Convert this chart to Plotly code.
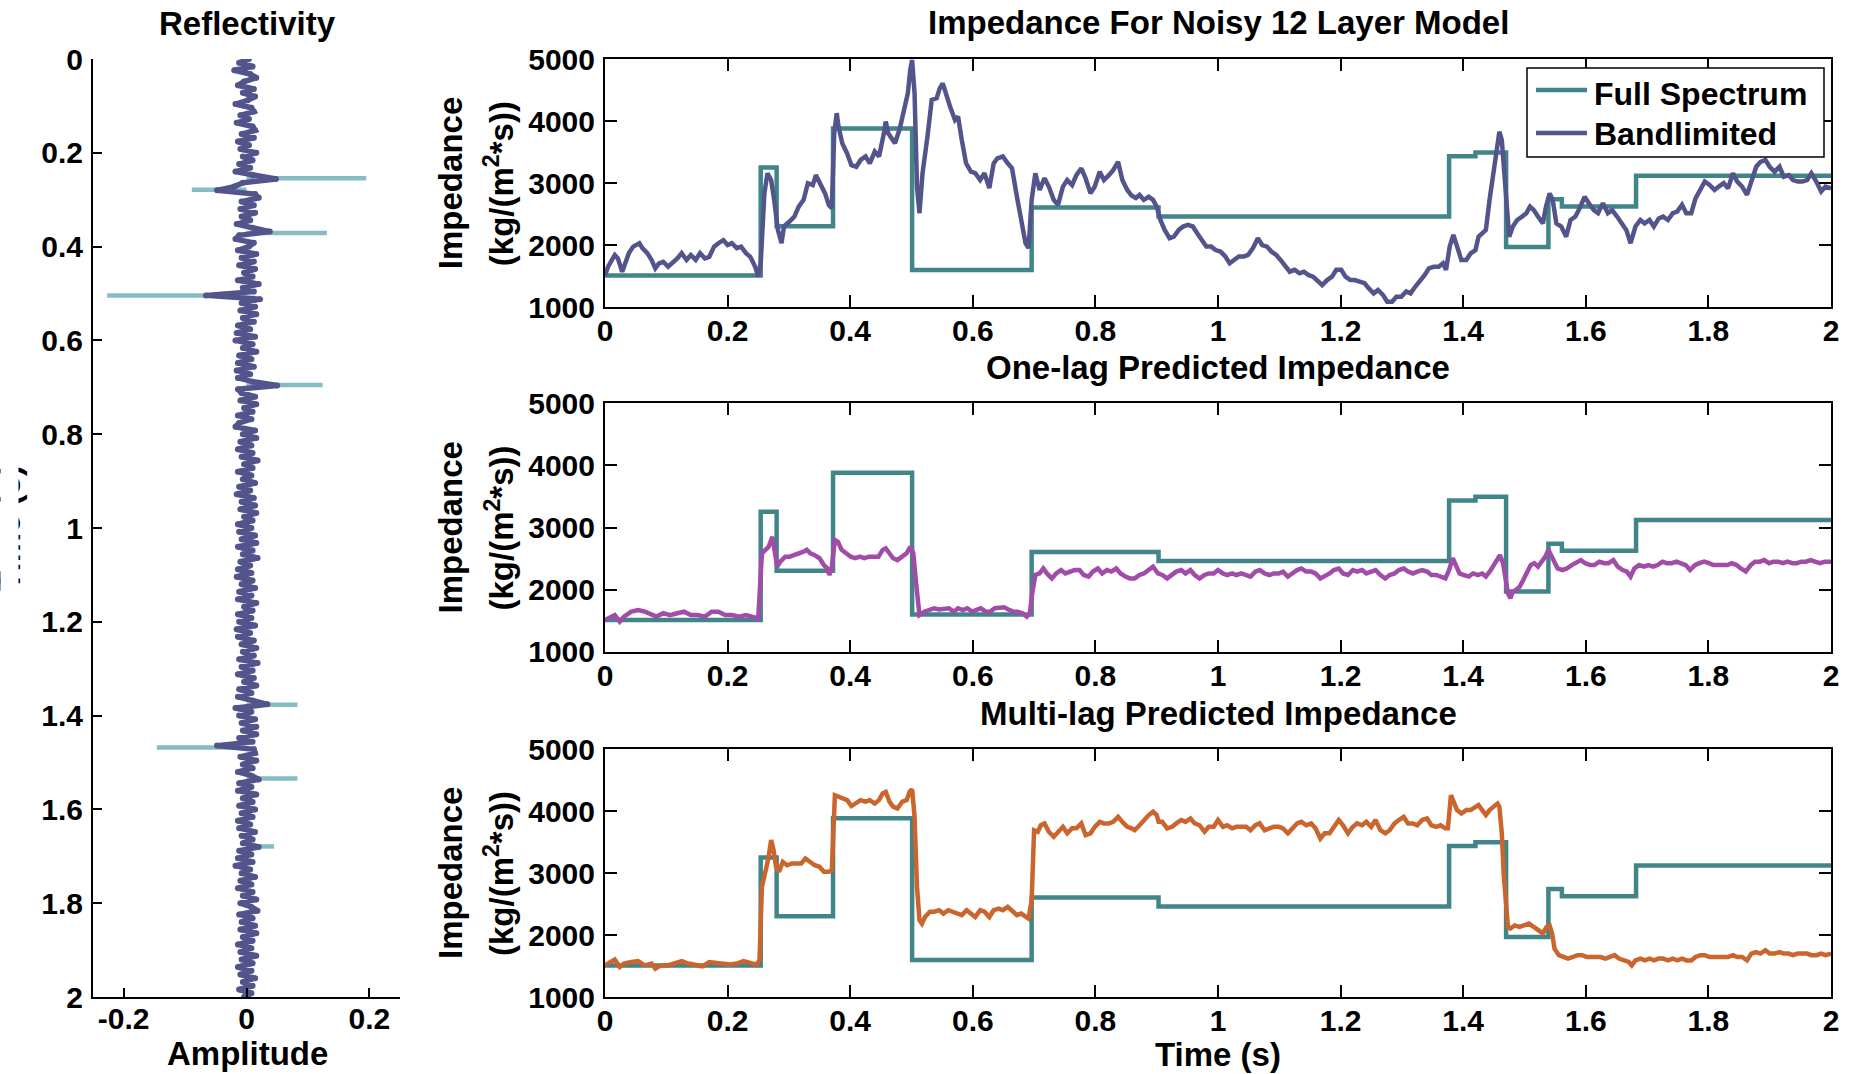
import plotly.graph_objects as go

# ------------------------------------------------------------------ data
# Reflectivity panel
refl_spike_time = [0.254, 0.279, 0.371, 0.504, 0.695, 1.377, 1.468, 1.534, 1.679]
refl_spike_amp = [0.195, -0.089, 0.131, -0.227, 0.124, 0.083, -0.146, 0.083, 0.045]
refl_dt = 0.008
refl_noise = [
    0.004, -0.012, 0.010, -0.020, 0.006, 0.016, -0.004, -0.014, 0.012, -0.006,
    0.014, 0.002, -0.018, 0.008, 0.012, -0.010, 0.004, -0.016, 0.010, 0.014,
    -0.008, 0.012, -0.014, 0.004, -0.010, 0.016, -0.006, 0.010, -0.012, 0.006,
    -0.018, 0.010, 0.048, -0.006, -0.020, -0.048, 0.014, 0.020, -0.008, 0.012,
    -0.010, 0.014, -0.008, 0.006, -0.016, 0.010, 0.038, -0.012, -0.018, 0.012,
    0.004, -0.014, 0.016, -0.008, 0.012, -0.012, 0.014, -0.004, 0.010, -0.014,
    0.020, -0.006, 0.012, -0.066, 0.022, -0.008, 0.014, -0.010, 0.016, -0.006,
    0.012, -0.014, 0.006, -0.016, 0.014, -0.018, 0.010, -0.006, 0.016, -0.012,
    0.008, -0.014, 0.012, -0.016, 0.006, -0.014, 0.010, 0.050, -0.014, -0.008,
    0.014, -0.010, 0.016, -0.004, 0.010, -0.014, 0.008, -0.012, -0.018, 0.014,
    -0.006, 0.016, -0.010, 0.008, -0.014, 0.010, -0.008, 0.018, -0.004, 0.010,
    -0.014, 0.008, -0.006, 0.014, -0.012, 0.006, -0.016, 0.012, -0.008, 0.014,
    -0.010, 0.016, -0.004, 0.010, -0.014, 0.008, -0.012, 0.014, -0.008, 0.016,
    -0.014, 0.010, -0.006, 0.018, -0.010, 0.006, -0.014, 0.008, -0.016, 0.010,
    -0.008, 0.014, -0.012, 0.008, -0.014, 0.016, -0.004, 0.010, -0.014, 0.008,
    -0.012, 0.014, -0.016, 0.006, -0.014, 0.012, -0.008, 0.016, -0.006, 0.012,
    -0.012, 0.018, -0.008, 0.010, -0.014, 0.012, -0.004, 0.016, -0.012, 0.008,
    -0.014, 0.010, 0.034, -0.018, 0.008, -0.012, 0.014, -0.008, 0.016, -0.006,
    0.016, -0.012, 0.010, -0.048, 0.012, 0.014, -0.010, 0.016, -0.006, 0.010,
    -0.014, 0.008, 0.020, -0.012, 0.008, -0.014, 0.016, -0.006, 0.010, -0.012,
    0.014, -0.008, 0.010, -0.014, 0.006, -0.012, 0.014, -0.008, 0.010, -0.006,
    0.020, -0.012, 0.008, -0.014, 0.010, -0.018, 0.006, -0.008, 0.014, -0.010,
    0.008, -0.014, 0.010, -0.006, 0.016, -0.010, 0.008, 0.018, -0.012, 0.010,
    -0.008, 0.014, -0.010, 0.016, -0.006, 0.010, -0.014, 0.008, -0.010, 0.016,
    -0.008, 0.010, -0.014, 0.008, -0.010, 0.014, -0.006, 0.010, -0.012, 0.008, -0.004,
]

# Full-spectrum (blocky) impedance model: layer top times and impedances
layer_top_time = [0.000, 0.254, 0.280, 0.372, 0.501, 0.696, 0.903,
                  1.377, 1.420, 1.470, 1.539, 1.561, 1.682, 2.000]
layer_imp = [1510, 3252, 2302, 3882, 1598, 2605, 2460,
             3436, 3494, 1968, 2740, 2624, 3120, 3120]

# Bandlimited impedance
bl_time = [
    0.000, 0.005, 0.016, 0.021, 0.028, 0.039, 0.046, 0.056, 0.061, 0.069,
    0.076, 0.082, 0.088, 0.095, 0.103, 0.110, 0.118, 0.125, 0.133, 0.140,
    0.148, 0.155, 0.163, 0.170, 0.178, 0.185, 0.193, 0.200, 0.207, 0.215,
    0.222, 0.230, 0.237, 0.245, 0.250, 0.254, 0.260, 0.265, 0.271, 0.276,
    0.282, 0.288, 0.292, 0.301, 0.309, 0.316, 0.324, 0.331, 0.339, 0.344,
    0.351, 0.359, 0.365, 0.370, 0.374, 0.378, 0.381, 0.387, 0.395, 0.402,
    0.410, 0.417, 0.425, 0.432, 0.440, 0.447, 0.455, 0.458, 0.462, 0.470,
    0.473, 0.481, 0.488, 0.494, 0.498, 0.501, 0.505, 0.509, 0.513, 0.518,
    0.526, 0.533, 0.541, 0.546, 0.551, 0.556, 0.563, 0.571, 0.576, 0.582,
    0.589, 0.597, 0.604, 0.612, 0.619, 0.627, 0.634, 0.640, 0.649, 0.657,
    0.664, 0.672, 0.679, 0.686, 0.691, 0.696, 0.702, 0.709, 0.717, 0.724,
    0.732, 0.739, 0.747, 0.754, 0.762, 0.769, 0.777, 0.784, 0.792, 0.799,
    0.807, 0.814, 0.822, 0.829, 0.837, 0.844, 0.852, 0.859, 0.866, 0.872,
    0.879, 0.887, 0.894, 0.900, 0.906, 0.913, 0.921, 0.928, 0.936, 0.943,
    0.951, 0.959, 0.966, 0.974, 0.981, 0.989, 0.996, 1.004, 1.012, 1.019,
    1.027, 1.034, 1.042, 1.049, 1.057, 1.065, 1.072, 1.080, 1.087, 1.095,
    1.102, 1.110, 1.117, 1.125, 1.133, 1.140, 1.148, 1.155, 1.163, 1.170,
    1.178, 1.186, 1.193, 1.201, 1.208, 1.216, 1.223, 1.231, 1.239, 1.246,
    1.254, 1.261, 1.269, 1.276, 1.284, 1.291, 1.299, 1.307, 1.314, 1.322,
    1.329, 1.337, 1.344, 1.352, 1.360, 1.367, 1.372, 1.378, 1.384, 1.390,
    1.397, 1.405, 1.412, 1.420, 1.425, 1.431, 1.437, 1.443, 1.450, 1.456,
    1.459, 1.463, 1.467, 1.471, 1.475, 1.481, 1.488, 1.496, 1.503, 1.509,
    1.515, 1.522, 1.530, 1.535, 1.541, 1.546, 1.552, 1.560, 1.568, 1.575,
    1.583, 1.590, 1.598, 1.605, 1.613, 1.620, 1.628, 1.636, 1.643, 1.651,
    1.658, 1.666, 1.673, 1.681, 1.689, 1.696, 1.704, 1.711, 1.719, 1.726,
    1.734, 1.742, 1.749, 1.757, 1.764, 1.772, 1.779, 1.787, 1.794, 1.802,
    1.810, 1.817, 1.825, 1.832, 1.840, 1.847, 1.855, 1.863, 1.870, 1.878,
    1.885, 1.893, 1.900, 1.908, 1.916, 1.923, 1.931, 1.938, 1.946, 1.953,
    1.961, 1.968, 1.976, 1.984, 1.991, 2.000,
]
bl_imp = [
    1510, 1650, 1840, 1785, 1570, 1870, 1975, 2030, 1950, 1870,
    1760, 1625, 1705, 1730, 1650, 1705, 1785, 1870, 1760, 1840,
    1760, 1870, 1785, 1810, 1975, 2030, 2080, 2000, 2030, 1950,
    1975, 1870, 1810, 1650, 1490, 1705, 2835, 3160, 3050, 2730,
    2245, 2030, 2300, 2380, 2460, 2620, 2730, 3000, 2970, 3130,
    3000, 2835, 2650, 2595, 3805, 4130, 3915, 3645, 3480, 3290,
    3265, 3375, 3430, 3320, 3510, 3430, 3805, 3995, 3805, 3700,
    3645, 3885, 4180, 4450, 4830, 4990, 4450, 2945, 2515, 3160,
    3750, 4345, 4370, 4530, 4610, 4425, 4235, 4020, 4075, 3700,
    3320, 3185, 3160, 3050, 3160, 2920, 3320, 3400, 3430, 3320,
    3240, 2780, 2405, 2030, 1950, 2730, 3160, 2890, 3080, 2945,
    2730, 2650, 2945, 3050, 2970, 3130, 3240, 3080, 2835, 2945,
    3185, 3050, 3130, 3210, 3345, 3050, 2890, 2800, 2760, 2810,
    2730, 2780, 2730, 2620, 2405, 2245, 2110, 2135, 2245, 2300,
    2325, 2300, 2190, 2080, 1975, 1975, 1920, 1895, 1815, 1705,
    1760, 1815, 1815, 1840, 1950, 2110, 2000, 1975, 1895, 1840,
    1760, 1650, 1570, 1600, 1545, 1570, 1515, 1490, 1410, 1355,
    1435, 1490, 1600, 1600, 1490, 1435, 1435, 1410, 1385, 1300,
    1220, 1275, 1195, 1085, 1085, 1165, 1165, 1250, 1220, 1330,
    1410, 1515, 1625, 1650, 1650, 1705, 1600, 1975, 2165, 1975,
    1760, 1760, 1865, 1920, 2135, 2190, 2245, 2730, 3265, 3645,
    3830, 3695, 3105, 2515, 2135, 2300, 2405, 2460, 2515, 2620,
    2565, 2460, 2350, 2620, 2835, 2730, 2350, 2300, 2135, 2405,
    2460, 2595, 2780, 2675, 2565, 2515, 2675, 2515, 2565, 2460,
    2350, 2245, 2030, 2300, 2405, 2350, 2405, 2300, 2430, 2460,
    2405, 2515, 2540, 2650, 2515, 2515, 2755, 2890, 3025, 2970,
    2890, 2945, 3000, 2915, 3160, 3025, 2945, 2810, 3050, 3265,
    3345, 3375, 3265, 3185, 3265, 3105, 3130, 3050, 3025, 3025,
    3050, 3160, 3025, 2865, 2945, 2915,
]

# One-lag predicted impedance
ol_time = [
    0.000, 0.009, 0.016, 0.024, 0.031, 0.043, 0.054, 0.065, 0.076, 0.084,
    0.095, 0.106, 0.118, 0.129, 0.140, 0.151, 0.163, 0.174, 0.185, 0.196,
    0.207, 0.219, 0.230, 0.241, 0.250, 0.256, 0.261, 0.267, 0.273, 0.276,
    0.281, 0.286, 0.294, 0.301, 0.309, 0.316, 0.324, 0.329, 0.335, 0.342,
    0.350, 0.357, 0.363, 0.366, 0.370, 0.375, 0.380, 0.386, 0.393, 0.401,
    0.408, 0.416, 0.423, 0.431, 0.438, 0.446, 0.453, 0.458, 0.464, 0.470,
    0.477, 0.485, 0.492, 0.498, 0.503, 0.507, 0.513, 0.521, 0.528, 0.537,
    0.545, 0.554, 0.561, 0.569, 0.576, 0.584, 0.591, 0.599, 0.606, 0.613,
    0.621, 0.628, 0.636, 0.643, 0.651, 0.658, 0.666, 0.673, 0.681, 0.688,
    0.693, 0.697, 0.702, 0.709, 0.715, 0.721, 0.729, 0.736, 0.744, 0.751,
    0.759, 0.766, 0.774, 0.781, 0.789, 0.796, 0.804, 0.811, 0.819, 0.826,
    0.834, 0.841, 0.849, 0.856, 0.864, 0.872, 0.879, 0.887, 0.894, 0.902,
    0.909, 0.917, 0.925, 0.932, 0.940, 0.947, 0.955, 0.962, 0.970, 0.978,
    0.985, 0.993, 1.000, 1.008, 1.015, 1.023, 1.030, 1.038, 1.046, 1.053,
    1.061, 1.068, 1.076, 1.084, 1.091, 1.099, 1.106, 1.114, 1.121, 1.129,
    1.136, 1.144, 1.152, 1.159, 1.167, 1.174, 1.182, 1.189, 1.197, 1.204,
    1.212, 1.220, 1.227, 1.235, 1.242, 1.250, 1.257, 1.265, 1.273, 1.280,
    1.288, 1.295, 1.303, 1.310, 1.318, 1.325, 1.333, 1.341, 1.348, 1.356,
    1.363, 1.371, 1.377, 1.383, 1.388, 1.394, 1.401, 1.409, 1.416, 1.424,
    1.431, 1.437, 1.445, 1.453, 1.460, 1.465, 1.469, 1.473, 1.477, 1.481,
    1.486, 1.492, 1.498, 1.504, 1.510, 1.516, 1.522, 1.528, 1.534, 1.539,
    1.543, 1.549, 1.554, 1.562, 1.569, 1.577, 1.584, 1.592, 1.599, 1.607,
    1.614, 1.622, 1.630, 1.637, 1.645, 1.652, 1.660, 1.667, 1.673, 1.679,
    1.687, 1.695, 1.702, 1.710, 1.717, 1.725, 1.732, 1.740, 1.748, 1.755,
    1.763, 1.770, 1.778, 1.785, 1.793, 1.801, 1.808, 1.816, 1.823, 1.831,
    1.838, 1.846, 1.853, 1.861, 1.869, 1.876, 1.884, 1.891, 1.899, 1.906,
    1.914, 1.922, 1.929, 1.937, 1.944, 1.952, 1.959, 1.967, 1.974, 1.982,
    1.990, 2.000,
]
ol_imp = [
    1510, 1565, 1590, 1485, 1565, 1645, 1670, 1645, 1590, 1565,
    1620, 1590, 1620, 1645, 1590, 1590, 1565, 1645, 1645, 1590,
    1590, 1565, 1590, 1565, 1535, 2585, 2640, 2690, 2850, 2690,
    2370, 2450, 2530, 2530, 2555, 2585, 2610, 2640, 2585, 2555,
    2505, 2395, 2340, 2235, 2370, 2800, 2770, 2640, 2585, 2530,
    2505, 2530, 2505, 2530, 2530, 2530, 2640, 2665, 2585, 2505,
    2475, 2530, 2585, 2690, 2585, 2155, 1590, 1645, 1670, 1700,
    1680, 1700, 1700, 1645, 1700, 1670, 1700, 1645, 1670, 1700,
    1645, 1645, 1700, 1700, 1715, 1680, 1645, 1645, 1620, 1565,
    1620, 1940, 2235, 2260, 2340, 2260, 2180, 2260, 2315, 2260,
    2290, 2315, 2315, 2235, 2210, 2290, 2340, 2260, 2315, 2290,
    2340, 2260, 2210, 2180, 2180, 2235, 2260, 2315, 2370, 2260,
    2235, 2180, 2235, 2290, 2315, 2260, 2315, 2235, 2180, 2235,
    2260, 2260, 2315, 2260, 2235, 2260, 2235, 2260, 2235, 2210,
    2290, 2315, 2260, 2235, 2260, 2260, 2290, 2210, 2260, 2315,
    2340, 2290, 2290, 2260, 2180, 2210, 2260, 2315, 2340, 2260,
    2235, 2315, 2290, 2315, 2260, 2290, 2315, 2235, 2180, 2235,
    2260, 2315, 2340, 2290, 2260, 2290, 2315, 2290, 2235, 2235,
    2210, 2180, 2315, 2505, 2395, 2260, 2235, 2210, 2260, 2235,
    2260, 2210, 2315, 2450, 2555, 2425, 2155, 1940, 1860, 1965,
    1995, 2045, 2155, 2290, 2395, 2425, 2370, 2450, 2530, 2640,
    2555, 2450, 2340, 2315, 2340, 2395, 2425, 2475, 2425, 2395,
    2395, 2450, 2425, 2425, 2475, 2370, 2315, 2290, 2210, 2340,
    2395, 2370, 2395, 2370, 2395, 2450, 2425, 2425, 2450, 2425,
    2395, 2315, 2395, 2425, 2450, 2425, 2395, 2395, 2395, 2395,
    2425, 2395, 2340, 2290, 2395, 2450, 2450, 2475, 2425, 2450,
    2450, 2425, 2450, 2425, 2425, 2450, 2450, 2475, 2450, 2425,
    2450, 2450,
]

# Multi-lag predicted impedance
ml_time = [
    0.000, 0.009, 0.016, 0.024, 0.031, 0.043, 0.054, 0.065, 0.076, 0.082,
    0.091, 0.103, 0.114, 0.125, 0.136, 0.148, 0.159, 0.170, 0.181, 0.193,
    0.204, 0.215, 0.226, 0.237, 0.247, 0.252, 0.256, 0.261, 0.267, 0.271,
    0.275, 0.279, 0.284, 0.290, 0.297, 0.305, 0.312, 0.320, 0.327, 0.335,
    0.342, 0.350, 0.357, 0.365, 0.370, 0.375, 0.380, 0.387, 0.395, 0.402,
    0.410, 0.417, 0.425, 0.432, 0.440, 0.447, 0.453, 0.458, 0.464, 0.470,
    0.477, 0.485, 0.492, 0.497, 0.501, 0.505, 0.509, 0.513, 0.517, 0.522,
    0.530, 0.537, 0.545, 0.552, 0.560, 0.567, 0.575, 0.582, 0.590, 0.597,
    0.604, 0.612, 0.619, 0.627, 0.634, 0.642, 0.649, 0.657, 0.664, 0.672,
    0.679, 0.687, 0.691, 0.696, 0.700, 0.706, 0.711, 0.717, 0.724, 0.732,
    0.739, 0.747, 0.754, 0.762, 0.769, 0.777, 0.784, 0.792, 0.799, 0.807,
    0.814, 0.822, 0.829, 0.837, 0.844, 0.852, 0.859, 0.864, 0.872, 0.879,
    0.887, 0.894, 0.900, 0.903, 0.909, 0.917, 0.925, 0.932, 0.940, 0.947,
    0.955, 0.962, 0.970, 0.978, 0.985, 0.993, 1.000, 1.008, 1.015, 1.023,
    1.030, 1.038, 1.046, 1.053, 1.061, 1.068, 1.076, 1.084, 1.091, 1.099,
    1.106, 1.114, 1.121, 1.129, 1.136, 1.144, 1.152, 1.159, 1.167, 1.174,
    1.182, 1.189, 1.197, 1.204, 1.212, 1.220, 1.227, 1.235, 1.242, 1.250,
    1.257, 1.265, 1.273, 1.280, 1.288, 1.295, 1.303, 1.310, 1.318, 1.325,
    1.333, 1.341, 1.348, 1.356, 1.363, 1.371, 1.375, 1.380, 1.385, 1.390,
    1.397, 1.405, 1.412, 1.420, 1.425, 1.431, 1.437, 1.443, 1.450, 1.456,
    1.459, 1.463, 1.466, 1.469, 1.473, 1.477, 1.484, 1.492, 1.499, 1.507,
    1.515, 1.522, 1.530, 1.536, 1.541, 1.545, 1.549, 1.556, 1.564, 1.571,
    1.579, 1.586, 1.594, 1.602, 1.609, 1.617, 1.624, 1.632, 1.639, 1.647,
    1.654, 1.662, 1.670, 1.675, 1.681, 1.689, 1.696, 1.704, 1.711, 1.719,
    1.726, 1.734, 1.742, 1.749, 1.757, 1.764, 1.772, 1.779, 1.787, 1.794,
    1.802, 1.810, 1.817, 1.825, 1.832, 1.840, 1.847, 1.855, 1.863, 1.870,
    1.878, 1.885, 1.893, 1.900, 1.908, 1.916, 1.923, 1.931, 1.938, 1.946,
    1.953, 1.961, 1.968, 1.976, 1.984, 1.991, 2.000,
]
ml_imp = [
    1510, 1565, 1605, 1485, 1540, 1565, 1580, 1510, 1540, 1455,
    1510, 1510, 1540, 1580, 1540, 1510, 1495, 1565, 1550, 1540,
    1525, 1540, 1580, 1550, 1520, 1590, 2775, 2990, 3260, 3530,
    3370, 3100, 3020, 3180, 3125, 3155, 3155, 3155, 3235, 3180,
    3125, 3100, 3020, 3020, 3045, 4255, 4230, 4205, 4175, 4080,
    4120, 4175, 4150, 4175, 4120, 4175, 4285, 4310, 4150, 4070,
    4040, 4150, 4175, 4310, 4350, 3905, 2775, 2240, 2185, 2290,
    2375, 2375, 2400, 2345, 2400, 2375, 2345, 2320, 2400, 2345,
    2290, 2400, 2375, 2290, 2400, 2425, 2400, 2455, 2400, 2320,
    2345, 2290, 2265, 2560, 3690, 3665, 3770, 3800, 3665, 3585,
    3665, 3745, 3640, 3720, 3720, 3800, 3610, 3640, 3745, 3825,
    3800, 3800, 3825, 3905, 3825, 3745, 3720, 3690, 3770, 3855,
    3935, 3990, 3935, 3825, 3825, 3720, 3745, 3800, 3855, 3825,
    3880, 3800, 3770, 3665, 3745, 3745, 3855, 3745, 3770, 3720,
    3745, 3745, 3745, 3690, 3770, 3800, 3690, 3720, 3745, 3745,
    3720, 3640, 3720, 3800, 3825, 3770, 3800, 3720, 3555, 3640,
    3640, 3745, 3855, 3770, 3640, 3745, 3800, 3770, 3825, 3745,
    3855, 3690, 3640, 3690, 3800, 3855, 3905, 3800, 3800, 3770,
    3855, 3880, 3770, 3745, 3770, 3720, 3720, 4255, 4120, 4015,
    3960, 4015, 4015, 4070, 4095, 4015, 3935, 4015, 4070, 4120,
    4070, 3640, 2990, 2560, 2130, 2105, 2155, 2130, 2155, 2185,
    2130, 2075, 2025, 2130, 2155, 2025, 1780, 1675, 1645, 1620,
    1645, 1675, 1675, 1645, 1645, 1645, 1645, 1620, 1645, 1675,
    1620, 1590, 1565, 1510, 1590, 1620, 1590, 1620, 1590, 1620,
    1620, 1590, 1620, 1590, 1620, 1590, 1590, 1645, 1675, 1675,
    1645, 1645, 1645, 1645, 1645, 1675, 1645, 1645, 1590, 1700,
    1725, 1700, 1755, 1700, 1700, 1725, 1700, 1700, 1675, 1700,
    1700, 1700, 1675, 1675, 1700, 1675, 1700,
]

imp_ticks = [1000, 2000, 3000, 4000, 5000]
time_ticks = [0, 0.2, 0.4, 0.6, 0.8, 1, 1.2, 1.4, 1.6, 1.8, 2]
amp_ticks = [-0.2, 0, 0.2]
amp_tick_text = ["-0.2", "0", "0.2"]
legend_names = ["Full Spectrum", "Bandlimited"]

assert len(bl_time) == len(bl_imp)
assert len(ol_time) == len(ol_imp)
assert len(ml_time) == len(ml_imp)

# ------------------------------------------------------------------ styling
W, H = 1857, 1074
FONT = "Liberation Sans, Arial, Helvetica, sans-serif"
C_FULL = "#418589"
C_SPIKE = "#84bec2"
C_BAND = "#53548c"
C_ONE = "#a04ca8"
C_MULTI = "#c9652d"


def px(x):
    """page pixel x -> paper fraction"""
    return x / W


def py(y):
    """page pixel y -> paper fraction"""
    return 1 - y / H


fig = go.Figure()

# ---- reflectivity panel
spike_x, spike_y = [], []
for t, a in zip(refl_spike_time, refl_spike_amp):
    spike_x += [0, a, None]
    spike_y += [t, t, None]
fig.add_trace(go.Scatter(x=spike_x, y=spike_y, mode="lines",
                         line=dict(color=C_SPIKE, width=4.5),
                         xaxis="x", yaxis="y", showlegend=False,
                         name="Full Spectrum"))
refl_time = [i * refl_dt for i in range(len(refl_noise))]
fig.add_trace(go.Scatter(x=refl_noise, y=refl_time, mode="lines+markers",
                         line=dict(color=C_BAND, width=5.5),
                         marker=dict(color=C_BAND, size=6, line=dict(width=0)),
                         xaxis="x", yaxis="y", showlegend=False,
                         name="Bandlimited"))

# ---- impedance panels
panels = [("x2", "y2", bl_time, bl_imp, C_BAND, "Bandlimited"),
          ("x3", "y3", ol_time, ol_imp, C_ONE, "One-lag Predicted"),
          ("x4", "y4", ml_time, ml_imp, C_MULTI, "Multi-lag Predicted")]
for xa, ya, tt, zz, col, name in panels:
    fig.add_trace(go.Scatter(x=layer_top_time, y=layer_imp, mode="lines",
                             line=dict(color=C_FULL, width=4.5, shape="hv"),
                             name="Full Spectrum", xaxis=xa, yaxis=ya,
                             showlegend=False))
    fig.add_trace(go.Scatter(x=tt, y=zz, mode="lines",
                             line=dict(color=col, width=4.5),
                             name=name, xaxis=xa, yaxis=ya, showlegend=False))

tickfont = dict(family=FONT, size=30, color="black", weight="bold")

common_right = dict(showline=True, linecolor="black", linewidth=2, mirror="ticks",
                    ticks="inside", ticklen=12, tickwidth=1.5, tickcolor="black",
                    showgrid=False, zeroline=False, tickfont=tickfont, automargin=False)

layout = dict(
    width=W, height=H,
    margin=dict(l=0, r=0, t=0, b=0, autoexpand=False),
    paper_bgcolor="white", plot_bgcolor="white",
    showlegend=False,
    xaxis=dict(domain=[px(93), px(400)], range=[-0.25, 0.25], anchor="y",
               tickvals=amp_ticks, ticktext=amp_tick_text, automargin=False,
               showline=True, linecolor="black", linewidth=2, mirror=False,
               ticks="inside", ticklen=9, tickwidth=1.5, tickcolor="black",
               showgrid=False, zeroline=False, tickfont=tickfont, ticklabelstandoff=-6),
    yaxis=dict(domain=[py(997), py(59)], range=[2, 0], anchor="x",
               tickvals=time_ticks, automargin=False,
               showline=True, linecolor="black", linewidth=2, mirror=False,
               ticks="inside", ticklen=9, tickwidth=1.5, tickcolor="black",
               showgrid=False, zeroline=False, tickfont=tickfont, ticklabelstandoff=2),
)
right_domains = {"2": (307, 59.3), "3": (651.7, 403.3), "4": (997, 749)}
for k, (ybot, ytop) in right_domains.items():
    layout["xaxis" + k] = dict(domain=[px(605), px(1831)], range=[0, 2], anchor="y" + k,
                               tickvals=time_ticks, ticklabelstandoff=-4, **common_right)
    layout["yaxis" + k] = dict(domain=[py(ybot), py(ytop)], range=[1000, 5000], anchor="x" + k,
                               tickvals=imp_ticks, tickformat="d", ticklabelstandoff=2,
                               **common_right)
fig.update_layout(**layout)

# ---- legend box for the top impedance panel (drawn as shapes + text)
shapes = [dict(type="rect", xref="paper", yref="paper",
               x0=px(1527), x1=px(1824), y0=py(157), y1=py(68),
               line=dict(color="black", width=1.5), fillcolor="white", layer="above")]
legend_rows = [(90, C_FULL), (133, C_BAND)]
for (ly, col) in legend_rows:
    shapes.append(dict(type="line", xref="paper", yref="paper",
                       x0=px(1536), x1=px(1587), y0=py(ly), y1=py(ly),
                       line=dict(color=col, width=4.5), layer="above"))
fig.update_layout(shapes=shapes)

# ---- text annotations
title_font = dict(family=FONT, size=33, color="black", weight="bold")
ann = []


def add_text(text, x, y, angle=0, font=title_font, xanchor="center", **kw):
    ann.append(dict(text=text, x=px(x), y=py(y), xref="paper", yref="paper",
                    showarrow=False, xanchor=xanchor, yanchor="middle",
                    textangle=angle, font=font, **kw))


add_text("Reflectivity", 247, 24)
add_text("Amplitude", 247, 1053)
add_text("Impedance For Noisy 12 Layer Model", 1218, 22)
add_text("One-lag Predicted Impedance", 1218, 367)
add_text("Multi-lag Predicted Impedance", 1218, 713)
add_text("Time (s)", 1218, 1054)
for ybot, ytop in right_domains.values():
    yc = (ybot + ytop) / 2
    add_text("Impedance", 450, yc, angle=-90)
    add_text("(kg/(m<sup>2</sup>*s))", 499, yc, angle=-90)
legend_font = dict(family=FONT, size=32, color="black", weight="bold")
for name, ly in zip(legend_names, (94, 134.5)):
    add_text(name, 1592, ly, font=legend_font, xanchor="left")
# left time label, partly cropped at the left edge as in the original figure
add_text("Time (s)", 9, 528, angle=-90)
ann.append(dict(text=" ", x=0, y=py(528), xref="paper", yref="paper", showarrow=False,
                xanchor="left", yanchor="middle", width=15, height=220,
                bgcolor="white", font=title_font))
fig.update_layout(annotations=ann)

# remove the page's default body margin so the figure fills the window exactly
fig.write_html("out.html", config={"displayModeBar": False},
               post_script="document.body.style.margin='0px';")
